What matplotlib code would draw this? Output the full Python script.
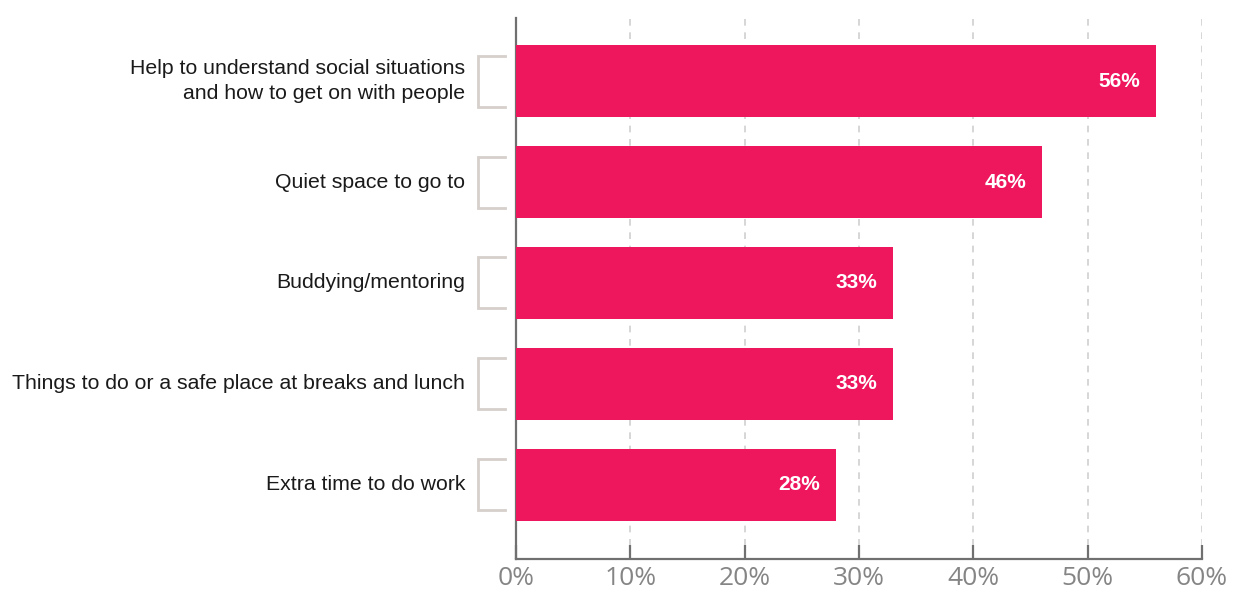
import matplotlib
matplotlib.use("Agg")
import matplotlib.pyplot as plt
from matplotlib.transforms import blended_transform_factory

categories = [
    "Help to understand social situations\nand how to get on with people",
    "Quiet space to go to",
    "Buddying/mentoring",
    "Things to do or a safe place at breaks and lunch",
    "Extra time to do work",
]
values = [56, 46, 33, 33, 28]
value_labels = ["56%", "46%", "33%", "33%", "28%"]
xticks = [0, 10, 20, 30, 40, 50, 60]
xtick_labels = ["0%", "10%", "20%", "30%", "40%", "50%", "60%"]

BAR = "#EE175E"
W, H = 1246, 592
fig = plt.figure(figsize=(W / 100, H / 100), dpi=100)
left, right = 516 / W, 1202 / W
top_px, bot_px = 18, 559
ax = fig.add_axes([left, 1 - bot_px / H, right - left, (bot_px - top_px) / H])

pos = list(range(len(categories)))
ax.barh(pos, values, height=0.71, color=BAR, zorder=3)
ax.set_xlim(0, 60)
ax.set_ylim(4 + 0.733, -0.624)

for s in ["top", "right"]:
    ax.spines[s].set_visible(False)
ax.spines["left"].set_color("#707070")
ax.spines["left"].set_linewidth(1.6)
ax.spines["bottom"].set_color("#707070")
ax.spines["bottom"].set_linewidth(1.6)

ax.set_xticks(xticks)
ax.set_xticklabels(xtick_labels, fontfamily="Open Sans", fontsize=19,
                   color="#858585")
ax.tick_params(axis="x", direction="in", length=10, width=1.6, color="#707070", pad=5)
ax.set_yticks([])
ax.xaxis.grid(True, linestyle=(0, (4, 4)), color="#cfcfcf", linewidth=1.2, zorder=0)

trans = blended_transform_factory(ax.transAxes, ax.transData)
bx0, bx1 = (478 - 516) / 686, (505 - 516) / 686
hh = 0.2525
for i, (c, v, lab) in enumerate(zip(categories, values, value_labels)):
    ax.plot([bx1, bx0, bx0, bx1], [i - hh, i - hh, i + hh, i + hh], transform=trans,
            color="#d6cfcb", linewidth=2, clip_on=False, solid_joinstyle="miter")
    ax.text((465 - 516) / 686, i, c, transform=trans, ha="right", va="center",
            fontfamily="Liberation Sans", fontsize=15.3, color="#1a1a1a", linespacing=1.35)
    ax.text(v - 1.4, i, lab, ha="right", va="center", fontfamily="Liberation Sans",
            fontweight="bold", fontsize=15, color="white", zorder=4)

fig.savefig("out.png", dpi=100)
